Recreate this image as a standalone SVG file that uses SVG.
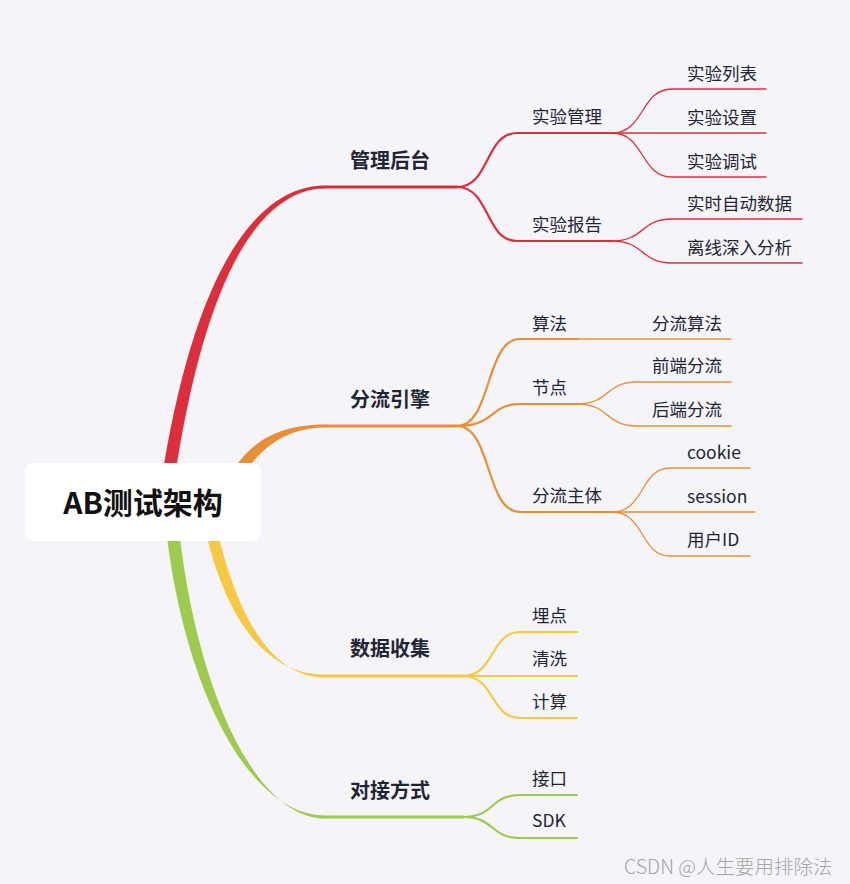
<svg xmlns="http://www.w3.org/2000/svg" width="850" height="884" viewBox="0 0 850 884">
<style>
.bg{fill:#f5f4f9}
.l1{fill:none;stroke-width:2.8;stroke-linecap:round}
.l2{fill:none;stroke-width:2.2;stroke-linecap:round}
.l3{fill:none;stroke-width:1.3;stroke-linecap:round}
.r{stroke:#dc2f3c}.o{stroke:#ea8e35}.y{stroke:#f6c843}.g{stroke:#9ecb4f}
.t1{font-family:"Noto Sans CJK SC","Noto Sans",sans-serif;font-size:20px;font-weight:bold;fill:#1f2535;dominant-baseline:central}
.t2{font-family:"Noto Sans CJK SC","Noto Sans",sans-serif;font-size:17.5px;fill:#1f2535;dominant-baseline:central}
</style>
<rect class="bg" x="0" y="0" width="850" height="884"/>
<g id="connectors">
  <path fill="#dc2f3c" d="M160,490 C196,250 266,185.5 325,185.5 L325,188.5 C270,189 207,252 173,490 Z"/>
  <path fill="#ea8e35" d="M222,490 C245,440 280,424.5 325,424.5 L325,427.5 C285,428 255,448 232,495 Z"/>
  <path fill="#f6c843" d="M199,500 C219,612 262,674.5 325,674.5 L325,677.5 C268,677.5 231,608 211,500 Z"/>
  <path fill="#9ecb4f" d="M164,510 C180,684 248,815.5 325,815.5 L325,818.5 C252,818.5 192,678 177,510 Z"/>
  <path class="l1 r" d="M325,187 L457,187"/>
  <path class="l1 o" d="M325,426 L457,426"/>
  <path class="l1 y" d="M325,676 L463,676"/>
  <path class="l1 g" d="M325,817 L463,817"/>
  <path class="l2 r" d="M457,187 C490,187 485,133 517,133 L612,133"/>
  <path class="l2 r" d="M457,187 C490,187 485,241 517,241 L612,241"/>
  <path class="l3 r" d="M612,133 C645,133 640,89 672,89 L766,89"/>
  <path class="l3 r" d="M612,133 L766,133"/>
  <path class="l3 r" d="M612,133 C645,133 640,177 672,177 L766,177"/>
  <path class="l3 r" d="M612,241 C645,241 640,219 672,219 L802,219"/>
  <path class="l3 r" d="M612,241 C645,241 640,263 672,263 L802,263"/>
  <path class="l2 o" d="M457,426 C492,426 485,339 520,339 L577,339"/>
  <path class="l2 o" d="M457,426 C495,426 490,404 520,404 L577,404"/>
  <path class="l2 o" d="M457,426 C492,426 485,512 520,512 L612,512"/>
  <path class="l3 o" d="M577,339 L731,339"/>
  <path class="l3 o" d="M577,404 C610,404 605,382 637,382 L731,382"/>
  <path class="l3 o" d="M577,404 C610,404 605,426 637,426 L731,426"/>
  <path class="l3 o" d="M612,512 C645,512 640,468 670,468 L750,468"/>
  <path class="l3 o" d="M612,512 L755,512"/>
  <path class="l3 o" d="M612,512 C645,512 640,556 670,556 L750,556"/>
  <path class="l2 y" d="M463,676 C495,676 490,632 520,632 L577,632"/>
  <path class="l2 y" d="M463,676 L577,676"/>
  <path class="l2 y" d="M463,676 C495,676 490,718 520,718 L577,718"/>
  <path class="l2 g" d="M463,817 C495,817 490,795 520,795 L577,795"/>
  <path class="l2 g" d="M463,817 C495,817 490,838 520,838 L577,838"/>
</g>
<g id="root">
  <rect x="25" y="463" width="236" height="78" rx="9" fill="#ffffff"/>
  <text x="143" y="501" text-anchor="middle" font-family="'Noto Sans CJK SC','Noto Sans',sans-serif" font-size="30" font-weight="bold" fill="#111" dominant-baseline="central">AB测试架构</text>
</g>
<g id="n-guanli"><text class="t1" x="350" y="159">管理后台</text></g>
<g id="n-fenliu"><text class="t1" x="350" y="398">分流引擎</text></g>
<g id="n-shuju"><text class="t1" x="350" y="647">数据收集</text></g>
<g id="n-duijie"><text class="t1" x="350" y="789">对接方式</text></g>
<g id="n-syguanli"><text class="t2" x="532" y="115">实验管理</text></g>
<g id="n-sybaogao"><text class="t2" x="532" y="223">实验报告</text></g>
<g id="n-liebiao"><text class="t2" x="687" y="72">实验列表</text></g>
<g id="n-shezhi"><text class="t2" x="687" y="116">实验设置</text></g>
<g id="n-tiaoshi"><text class="t2" x="687" y="160">实验调试</text></g>
<g id="n-shishi"><text class="t2" x="687" y="202">实时自动数据</text></g>
<g id="n-lixian"><text class="t2" x="687" y="246">离线深入分析</text></g>
<g id="n-suanfa"><text class="t2" x="532" y="322">算法</text></g>
<g id="n-jiedian"><text class="t2" x="532" y="386">节点</text></g>
<g id="n-zhuti"><text class="t2" x="532" y="494">分流主体</text></g>
<g id="n-flsf"><text class="t2" x="652" y="322">分流算法</text></g>
<g id="n-qd"><text class="t2" x="652" y="364">前端分流</text></g>
<g id="n-hd"><text class="t2" x="652" y="408">后端分流</text></g>
<g id="n-cookie"><text class="t2" x="687" y="451">cookie</text></g>
<g id="n-session"><text class="t2" x="687" y="495">session</text></g>
<g id="n-uid"><text class="t2" x="687" y="538">用户ID</text></g>
<g id="n-maidian"><text class="t2" x="532" y="614">埋点</text></g>
<g id="n-qingxi"><text class="t2" x="532" y="657">清洗</text></g>
<g id="n-jisuan"><text class="t2" x="532" y="700">计算</text></g>
<g id="n-jiekou"><text class="t2" x="532" y="777">接口</text></g>
<g id="n-sdk"><text class="t2" x="532" y="819">SDK</text></g>
<text x="624" y="865" font-family="'Noto Sans CJK SC','Noto Sans',sans-serif" font-size="19.5" font-weight="300" fill="#a5a5a5" dominant-baseline="central">CSDN @人生要用排除法</text>
</svg>
